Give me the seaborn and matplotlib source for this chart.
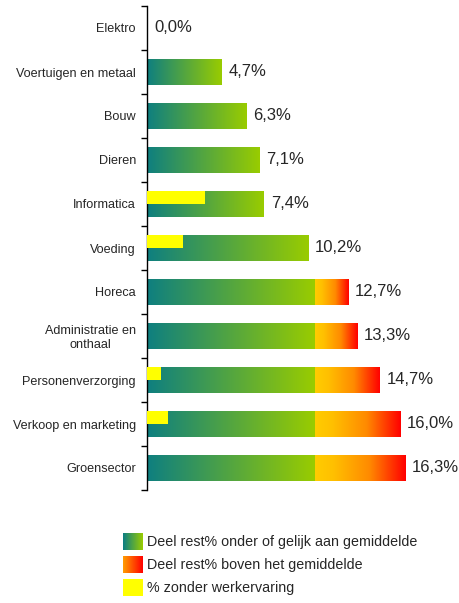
import numpy as np
import pandas as pd
import matplotlib
matplotlib.use("Agg")
import matplotlib.pyplot as plt
import seaborn as sns
from matplotlib.colors import LinearSegmentedColormap
from matplotlib.patches import Rectangle
from matplotlib.legend_handler import HandlerBase

# Data
categories = ["Elektro", "Voertuigen en metaal", "Bouw", "Dieren", "Informatica",
              "Voeding", "Horeca", "Administratie en\nonthaal", "Personenverzorging",
              "Verkoop en marketing", "Groensector"]
totals = [0.0, 4.7, 6.3, 7.1, 7.4, 10.2, 12.7, 13.3, 14.7, 16.0, 16.3]
no_experience = [0.0, 0.0, 0.0, 0.0, 3.7, 2.3, 0.0, 0.0, 0.9, 1.3, 0.0]
average = 10.6
legend_labels = ["Deel rest% onder of gelijk aan gemiddelde",
                 "Deel rest% boven het gemiddelde",
                 "% zonder werkervaring"]

df = pd.DataFrame({"category": categories, "total": totals, "no_exp": no_experience})
df["below"] = df["total"].clip(upper=average)
df["above"] = (df["total"] - average).clip(lower=0)

sns.set_style("white")
plt.rcParams["font.family"] = ["Liberation Sans", "DejaVu Sans"]

cmap_below = LinearSegmentedColormap.from_list("below", ["#0e7f80", "#99cc00"])
cmap_above = LinearSegmentedColormap.from_list(
    "above", [(0, "#ffcc00"), (0.2, "#ffc000"), (0.6, "#ff8a00"), (1, "#ff0000")])

fig = plt.figure(figsize=(4.6, 6.03), dpi=100)
ax = fig.add_axes([147 / 460, 1 - 490 / 603, 1 - 147 / 460, 484 / 603])

bar_h = 0.59
sns.barplot(data=df, x="below", y="category", orient="h", width=bar_h,
            color="white", ax=ax, zorder=1, linewidth=0)
below_patches = list(ax.patches)
idx = np.arange(len(categories))
above_bars = ax.barh(idx, df["above"], left=average, height=bar_h, zorder=1,
                     linewidth=0)
yellow = ax.barh(idx - bar_h / 4, df["no_exp"], height=bar_h / 2,
                 color="#ffff00", edgecolor="none", linewidth=0, zorder=3)
for p in yellow.patches:
    if p.get_width() <= 0:
        p.set_visible(False)

grad = np.linspace(0, 1, 256).reshape(1, -1)


def paint(patch, cmap):
    x0, y0 = patch.get_x(), patch.get_y()
    w, h = patch.get_width(), patch.get_height()
    patch.set_visible(False)
    if w <= 0:
        return
    ax.imshow(grad, cmap=cmap, extent=[x0, x0 + w, y0 + h, y0],
              aspect="auto", interpolation="bilinear", zorder=2)


for p in below_patches:
    paint(p, cmap_below)
for p in above_bars.patches:
    paint(p, cmap_above)

for i, v in enumerate(totals):
    ax.annotate(f"{v:.1f}".replace(".", ",") + "%", xy=(v, i), xytext=(5, 0),
                textcoords="offset points", va="center", ha="left", fontsize=12)

ax.set_xlim(0, 19.8)
ax.set_ylim(len(categories) - 0.5, -0.5)
ax.set_xlabel("")
ax.set_ylabel("")
ax.set_xticks([])
ax.set_yticks(np.arange(-0.5, len(categories), 1), minor=True)
ax.set_yticks(idx)
ax.set_yticklabels(categories, fontsize=9.1, multialignment="center")
ax.tick_params(axis="y", which="major", length=0, pad=8)
ax.tick_params(axis="y", which="minor", left=True, direction="out",
               length=4, width=1, color="black")
for s in ["top", "right", "bottom"]:
    ax.spines[s].set_visible(False)
ax.spines["left"].set_color("black")
ax.spines["left"].set_linewidth(1)


class GradientKey:
    def __init__(self, cmap):
        self.cmap = cmap


class GradientHandler(HandlerBase):
    def create_artists(self, legend, orig_handle, xdescent, ydescent,
                       width, height, fontsize, trans):
        n = 40
        cols = orig_handle.cmap(np.linspace(0, 1, n))
        arts = []
        for k, c in enumerate(cols):
            arts.append(Rectangle((-xdescent + width * k / n, -ydescent),
                                  width / n * 1.1, height, facecolor=c,
                                  edgecolor="none", transform=trans))
        return arts


handles = [GradientKey(cmap_below),
           GradientKey(LinearSegmentedColormap.from_list("lg", ["#ff9900", "#ff0000"])),
           Rectangle((0, 0), 1, 1, facecolor="#ffff00", edgecolor="none")]
fig.legend(handles, legend_labels, handler_map={GradientKey: GradientHandler()},
           loc="upper left", bbox_to_anchor=(123 / 460, 1 - 533 / 603),
           frameon=False, fontsize=10.3, handlelength=1.4, handleheight=1.45,
           handletextpad=0.3, labelspacing=0.42, borderpad=0, borderaxespad=0)

fig.savefig("out.png", dpi=100)
